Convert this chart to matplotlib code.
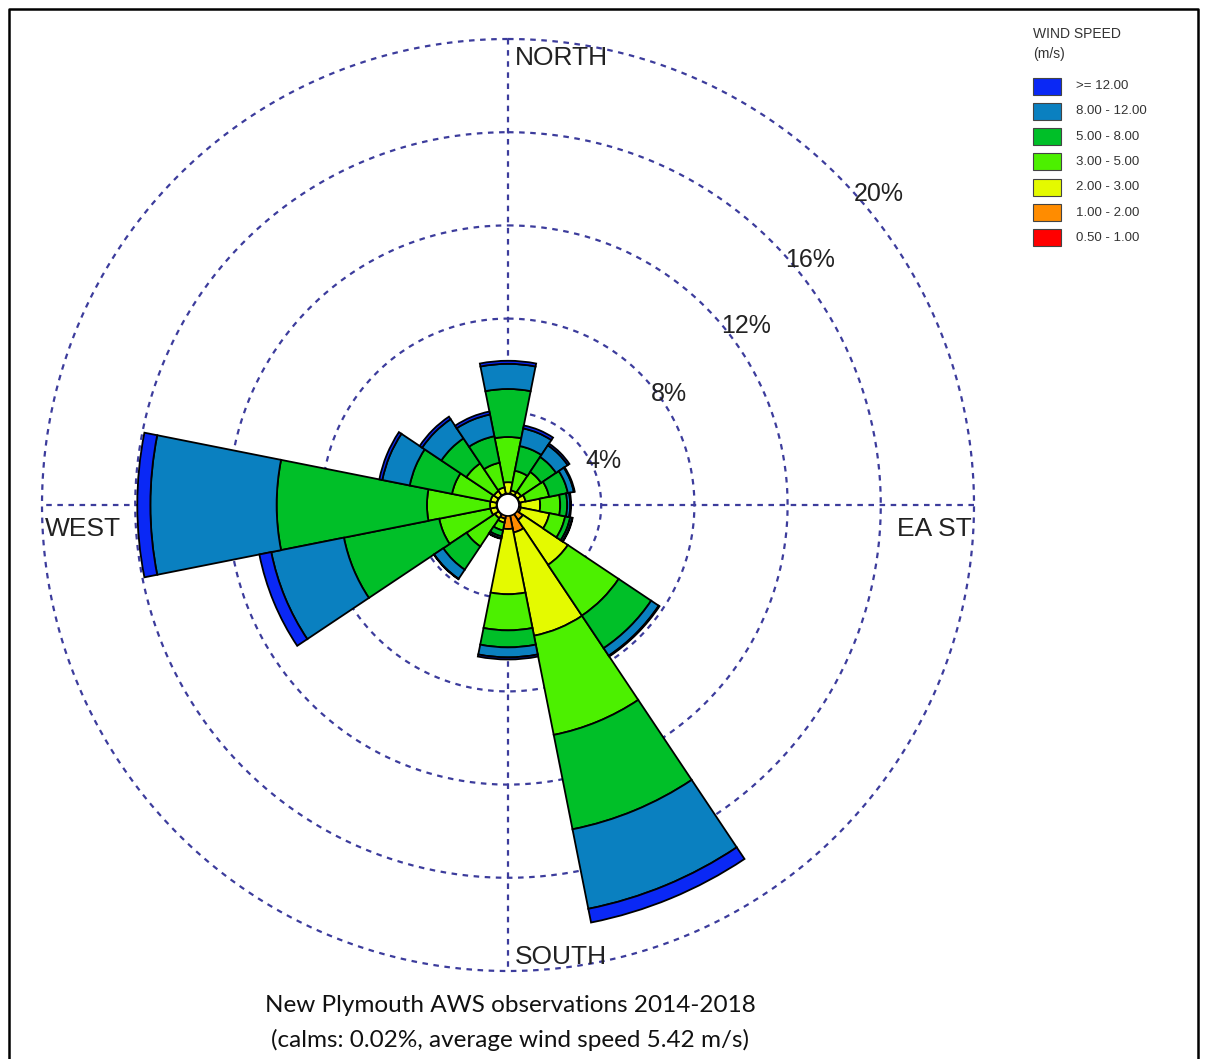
import numpy as np
import matplotlib.pyplot as plt
from matplotlib.patches import Rectangle, Circle

# wind direction sectors (16 points) and speed classes
directions = ['N', 'NNE', 'NE', 'ENE', 'E', 'ESE', 'SE', 'SSE',
              'S', 'SSW', 'SW', 'WSW', 'W', 'WNW', 'NW', 'NNW']
dir_deg = [0, 22.5, 45, 67.5, 90, 112.5, 135, 157.5,
           180, 202.5, 225, 247.5, 270, 292.5, 315, 337.5]

speed_labels = ['0.50 - 1.00', '1.00 - 2.00', '2.00 - 3.00', '3.00 - 5.00',
                '5.00 - 8.00', '8.00 - 12.00', '>= 12.00']
speed_colors = ['#ff0000', '#ff8c00', '#e4fa00', '#4cf000',
                '#00bf28', '#0a80c0', '#0a28f5']

# frequency (%) per direction for each speed class
f_05_1 = [0.17, 0.17, 0.17, 0.17, 0.17, 0.17, 0.17, 0.17,
          0.17, 0.17, 0.17, 0.17, 0.17, 0.17, 0.17, 0.17]
f_1_2 = [0.32, 0.32, 0.32, 0.32, 0.37, 0.39, 0.60, 1.03,
         0.86, 0.43, 0.32, 0.32, 0.32, 0.32, 0.32, 0.32]
f_2_3 = [0.49, 0.15, 0.19, 0.28, 0.84, 1.25, 2.32, 4.52,
         2.80, 0.17, 0.19, 0.28, 0.28, 0.28, 0.24, 0.28]
f_3_5 = [1.94, 0.86, 1.03, 1.03, 0.86, 0.69, 2.62, 4.34,
         1.55, 0.34, 1.46, 2.24, 2.71, 1.68, 1.42, 1.08]
f_5_8 = [2.06, 1.08, 0.77, 0.82, 0.30, 0.22, 1.68, 4.13,
         0.73, 0.26, 1.20, 4.17, 6.45, 1.85, 1.29, 1.16]
f_8_12 = [1.08, 0.77, 0.60, 0.26, 0.13, 0.09, 0.39, 3.48,
          0.43, 0.09, 0.47, 3.18, 5.42, 1.20, 0.99, 0.95]
f_12 = [0.13, 0.13, 0.09, 0.04, 0.04, 0.02, 0.04, 0.60,
        0.09, 0.02, 0.02, 0.52, 0.56, 0.13, 0.13, 0.13]

freqs = [f_05_1, f_1_2, f_2_3, f_3_5, f_5_8, f_8_12, f_12]

ring_vals = [4, 8, 12, 16, 20]
calm_radius = 0.47

W, H = 1206, 1059
fig = plt.figure(figsize=(W / 100, H / 100), dpi=100)

# polar axes: centre (508, 505) px, 20% ring radius 466 px
cx, cy, rad = 508, 505, 466
ax = fig.add_axes([(cx - rad) / W, 1 - (cy + rad) / H, 2 * rad / W, 2 * rad / H],
                  projection='polar')
ax.set_theta_zero_location('N')
ax.set_theta_direction(-1)
ax.set_ylim(0, 20)
ax.axis('off')

grid_col = '#3c3c9c'
t = np.linspace(0, 2 * np.pi, 400)
for rv in ring_vals:
    ax.plot(t, np.full_like(t, rv), color=grid_col, lw=1.6,
            ls=(0, (2.5, 2.5)), zorder=1, clip_on=False)
for a in [0, np.pi / 2]:
    ax.plot([a, a + np.pi], [20, 20], color=grid_col, lw=1.6,
            ls=(0, (2.5, 2.5)), zorder=1, clip_on=False)

theta = np.deg2rad(dir_deg)
width = np.deg2rad(22.5)
bottom = np.zeros(len(directions))
for vals, col in zip(freqs, speed_colors):
    vals = np.array(vals)
    ax.bar(theta, vals, width=width, bottom=bottom, color=col,
           edgecolor='black', linewidth=1.3, zorder=3)
    bottom += vals

# calm circle
ax.add_patch(Circle((0, 0), calm_radius, transform=ax.transData._b,
                    facecolor='white', edgecolor='black', lw=1.2, zorder=5))

# ring labels
lbl_pos = [(65, 4.5), (55.5, 8.4), (53, 12.8), (51, 16.7), (50, 20.75)]
for (ang, rr), rv in zip(lbl_pos, ring_vals):
    ax.text(np.deg2rad(ang), rr, f'{rv}%', fontsize=18, family='Liberation Sans',
            ha='center', va='center', color='#222222', zorder=6)

# compass labels
lab_kw = dict(fontsize=19, family='Liberation Sans', color='#222222')
fig.text(515 / W, 1 - 58 / H, 'NORTH', ha='left', va='center', **lab_kw)
fig.text(515 / W, 1 - 957 / H, 'SOUTH', ha='left', va='center', **lab_kw)
fig.text(45 / W, 1 - 529 / H, 'WEST', ha='left', va='center', **lab_kw)
fig.text(897 / W, 1 - 529 / H, 'EA ST', ha='left', va='center', **lab_kw)

# legend
fig.text(1033 / W, 1 - 34 / H, 'WIND SPEED', fontsize=10, family='Liberation Sans',
         ha='left', va='center', color='#333333')
fig.text(1033 / W, 1 - 54 / H, '(m/s)', fontsize=10, family='Liberation Sans',
         ha='left', va='center', color='#333333')
for i in range(len(speed_labels)):
    k = len(speed_labels) - 1 - i
    yc = 86 + i * 25.3
    fig.add_artist(Rectangle((1033 / W, 1 - (yc + 8.5) / H), 28 / W, 17 / H,
                             transform=fig.transFigure, facecolor=speed_colors[k],
                             edgecolor='#444444', lw=0.8))
    fig.text(1076 / W, 1 - yc / H, speed_labels[k], fontsize=9.5,
             family='Liberation Sans', ha='left', va='center', color='#333333')

# caption
cap_kw = dict(fontsize=17.5, family='Lato', ha='center', va='center', color='#111111')
fig.text(510 / W, 1 - 1006 / H, 'New Plymouth AWS observations 2014-2018', **cap_kw)
fig.text(510 / W, 1 - 1040 / H, '(calms: 0.02%, average wind speed 5.42 m/s)', **cap_kw)

# frame
fig.add_artist(plt.Line2D([9 / W, 9 / W, 1198 / W, 1198 / W],
                          [0, 1 - 9 / H, 1 - 9 / H, 0],
                          transform=fig.transFigure, color='black', lw=1.8))

fig.savefig('out.png', dpi=100)
